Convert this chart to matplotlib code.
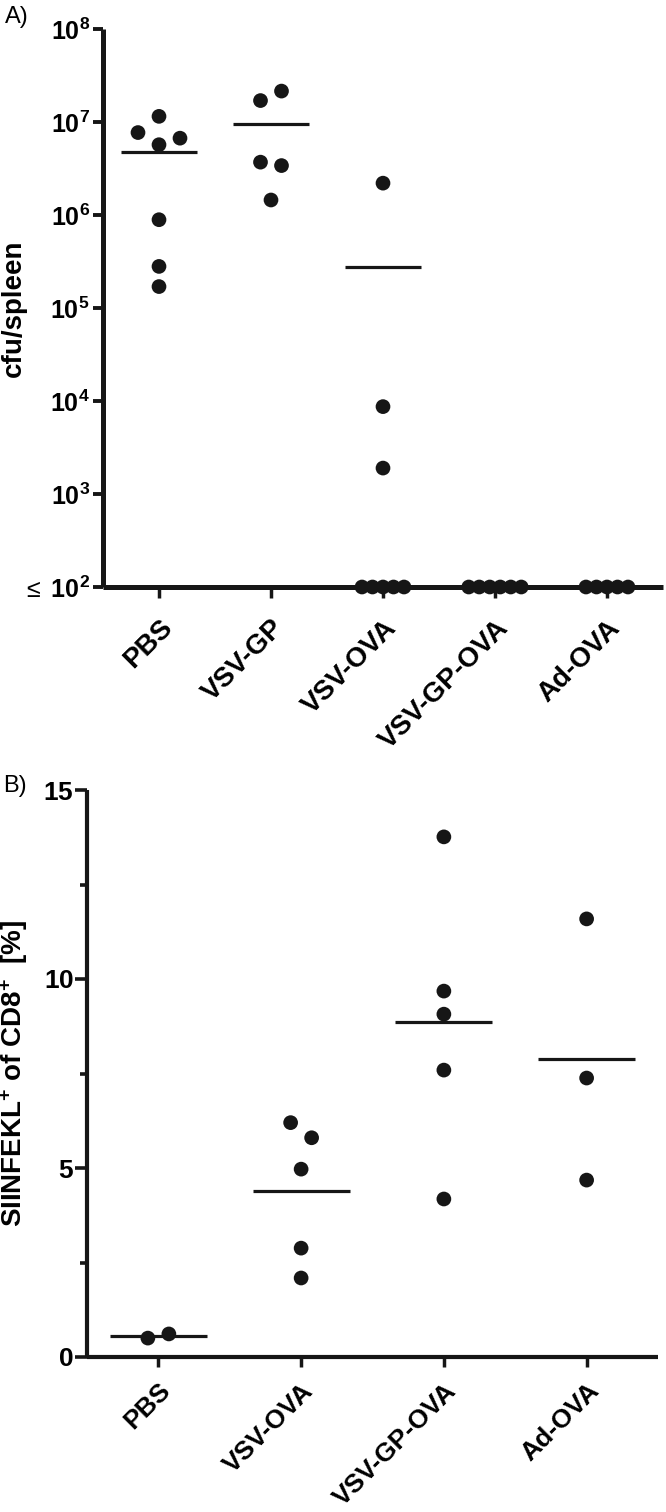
import numpy as np
import matplotlib
matplotlib.use("Agg")
import matplotlib.pyplot as plt
from matplotlib.ticker import NullLocator, MultipleLocator

# font: Arial-like bold, mathtext for the exponents
plt.rcParams['font.family'] = ['Liberation Sans', 'DejaVu Sans']
plt.rcParams['mathtext.fontset'] = 'custom'
plt.rcParams['mathtext.rm'] = 'Liberation Sans'
plt.rcParams['mathtext.bf'] = 'Liberation Sans:bold'
plt.rcParams['mathtext.it'] = 'Liberation Sans:italic'

# =====================================================================
# Data
# =====================================================================
# A) bacteria per spleen, values at the detection limit are 100
groupsA = ["PBS", "VSV-GP", "VSV-OVA", "VSV-GP-OVA", "Ad-OVA"]
cfu_pbs = [1.15e7, 7.7e6, 5.7e6, 6.7e6, 8.9e5, 2.8e5, 1.7e5]
cfu_vsvgp = [1.7e7, 2.15e7, 3.7e6, 3.4e6, 1.45e6]
cfu_vsvova = [2.2e6, 8.7e3, 1.9e3, 100, 100, 100, 100, 100]
cfu_vsvgpova = [100, 100, 100, 100, 100, 100]
cfu_adova = [100, 100, 100, 100, 100]
yticksA = [1e2, 1e3, 1e4, 1e5, 1e6, 1e7, 1e8]
yticklabelsA = [r'$\leq$ $\mathbf{10^{2}}$'] + [r'$\mathbf{10^{%d}}$' % e for e in range(3, 9)]

# B) SIINFEKL+ of CD8+ [%]
groupsB = ["PBS", "VSV-OVA", "VSV-GP-OVA", "Ad-OVA"]
sii_pbs = [0.50, 0.61]
sii_vsvova = [6.2, 5.8, 4.97, 2.88, 2.09]
sii_vsvgpova = [13.76, 9.68, 9.07, 7.59, 4.18]
sii_adova = [11.59, 7.38, 4.68]
yticksB = [0, 5, 10, 15]


# =====================================================================
# Spread points sideways when they sit on top of each other (like Prism)
# =====================================================================
def swarm_x(ax, x0, values, step_diff=21.0, step_same=10.5, limit=15.5):
    ypx = [ax.transData.transform((x0, v))[1] for v in values]
    order = sorted(range(len(values)), key=lambda i: -ypx[i])
    clusters = []
    for i in order:
        if clusters and abs(ypx[clusters[-1][0]] - ypx[i]) < limit:
            clusters[-1].append(i)
        else:
            clusters.append([i])
    offs = np.zeros(len(values))
    for c in clusters:
        c = sorted(c)  # left to right in the order of the list
        same = len(set(values[i] for i in c)) == 1
        step = step_same if same else step_diff
        for k, i in enumerate(c):
            offs[i] = (k - (len(c) - 1) / 2.0) * step
    x_lo, x_hi = ax.get_xlim()
    px_per_unit = ax.bbox.width / (x_hi - x_lo)
    return x0 + offs / px_per_unit


def draw_group(ax, x0, values):
    xs = swarm_x(ax, x0, values)
    ax.scatter(xs, values, s=112, color='#161616', edgecolors='none',
               zorder=4, clip_on=False)
    ax.hlines(np.mean(values), x0 - 0.34, x0 + 0.34, color='#161616',
              lw=2.3, zorder=3)


def style_axes(ax, spine_w):
    for side in ['top', 'right']:
        ax.spines[side].set_visible(False)
    for side in ['left', 'bottom']:
        ax.spines[side].set_linewidth(spine_w)
        ax.spines[side].set_color('#161616')
        ax.spines[side].set_capstyle('butt')


fig = plt.figure(figsize=(6.66, 15.12), dpi=100)

# =====================================================================
# Panel A
# =====================================================================
axA = fig.add_axes([103 / 666, 1 - 587 / 1512, 560 / 666, 558 / 1512])
axA.set_yscale('log')
axA.set_ylim(1e2, 1e8)
axA.set_xlim(0.5, len(groupsA) + 0.5)
style_axes(axA, 3.6)

dataA = [cfu_pbs, cfu_vsvgp, cfu_vsvova, cfu_vsvgpova, cfu_adova]
for i, vals in enumerate(dataA):
    draw_group(axA, i + 1, vals)

axA.set_yticks(yticksA)
axA.set_yticklabels(yticklabelsA)
axA.yaxis.set_minor_locator(NullLocator())
axA.tick_params(axis='y', length=7.5, width=2.8, pad=2, labelsize=18,
                color='#161616')
axA.set_xticks(range(1, len(groupsA) + 1))
axA.set_xticklabels(groupsA, rotation=45, ha='right', rotation_mode='anchor',
                    fontsize=20, fontweight='bold')
axA.tick_params(axis='x', length=8, width=2.5, pad=12, color='#161616')
axA.set_ylabel('cfu/spleen', fontsize=20, fontweight='bold')
axA.yaxis.set_label_coords(-0.136, 0.5)

# =====================================================================
# Panel B
# =====================================================================
axB = fig.add_axes([87 / 666, 1 - 1357 / 1512, 571 / 666, 567 / 1512])
axB.set_ylim(0, 15)
axB.set_xlim(0.5, len(groupsB) + 0.5)
style_axes(axB, 3.0)

dataB = [sii_pbs, sii_vsvova, sii_vsvgpova, sii_adova]
for i, vals in enumerate(dataB):
    draw_group(axB, i + 1, vals)

axB.set_yticks(yticksB)
axB.set_yticklabels([r'$\mathbf{%d}$' % t for t in yticksB])
axB.yaxis.set_minor_locator(MultipleLocator(2.5))
axB.tick_params(axis='y', which='major', length=8.5, width=2.6, pad=1,
                labelsize=19, color='#161616')
axB.tick_params(axis='y', which='minor', length=5, width=2.6, color='#161616')
axB.set_xticks(range(1, len(groupsB) + 1))
axB.set_xticklabels(groupsB, rotation=45, ha='right', rotation_mode='anchor',
                    fontsize=19, fontweight='bold')
axB.tick_params(axis='x', length=7.5, width=2.5, pad=8, color='#161616')
axB.set_ylabel(r'SIINFEKL$^{\mathbf{+}}$ of CD8$^{\mathbf{+}}$  [%]',
               fontsize=20, fontweight='bold')
axB.yaxis.set_label_coords(-0.10, 0.5)

# panel letters
fig.text(5 / 666, 1 - 23 / 1512, 'A)', fontsize=17, va='baseline')
fig.text(3 / 666, 1 - 792 / 1512, 'B)', fontsize=17, va='baseline')

fig.savefig('out.png', dpi=100)
